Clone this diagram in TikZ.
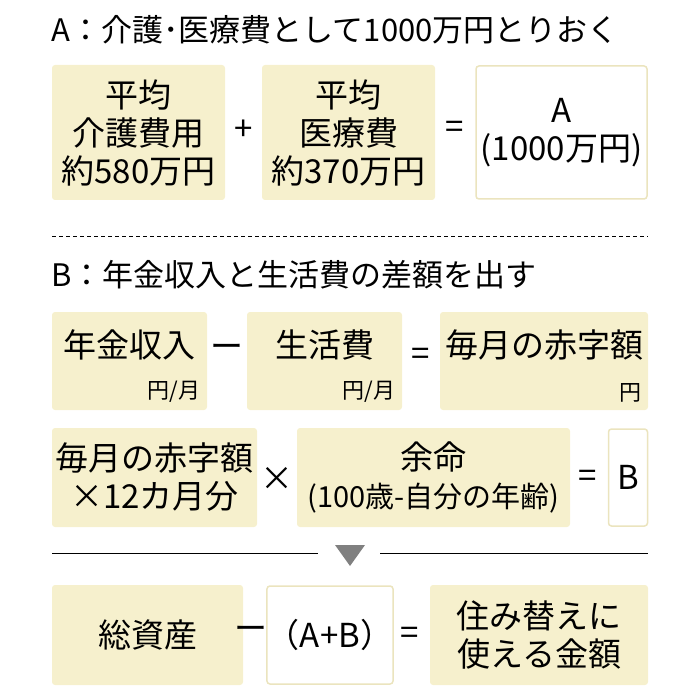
\documentclass[tikz,border=0pt]{standalone}
\usepackage{fontspec}
\setmainfont{Noto Sans CJK JP}
\definecolor{boxbeige}{RGB}{246,240,205}
\definecolor{lineline}{RGB}{235,228,190}
\definecolor{triagray}{RGB}{128,128,128}
\begin{document}
\begin{tikzpicture}[x=1pt,y=-1pt]
  \tikzset{BoxStyle/.style = {rectangle,
                              fill         = boxbeige,
                              rounded corners = 3pt,
                              inner sep    = 0pt,
                              align        = center,
                              font         = \fontsize{33}{38}\selectfont}}
  \tikzset{WhiteBoxStyle/.style = {BoxStyle,
                              fill         = white,
                              draw         = lineline,
                              line width   = 1.5pt}}
  \tikzset{OpStyle/.style = {inner sep = 0pt,
                              font = \fontsize{33}{38}\selectfont}}
  \tikzset{TitleStyle/.style = {anchor = west,
                              font = \fontsize{31}{36}\selectfont}}
  \tikzset{UnitStyle/.style = {anchor = south east,
                              font = \fontsize{22}{26}\selectfont}}

\useasboundingbox (0,0) rectangle (700,700);

% A
\node[TitleStyle] (titleA) at (48,30) {A：介護･医療費として1000万円とりおく};
\node[BoxStyle, minimum width=173, minimum height=135] (kaigo) at (138.5,132.5) {平均\\介護費用\\約580万円};
\node[BoxStyle, minimum width=173, minimum height=135] (iryo) at (348.5,132.5) {平均\\医療費\\約370万円};
\node[WhiteBoxStyle, minimum width=171, minimum height=133] (boxA) at (561.5,132.5) {A\\(1000万円)};
\node[OpStyle] (plusA) at (244,130) {+};
\node[OpStyle] (eqA) at (455,130) {=};

\draw[line width=1pt, dash pattern=on 4pt off 3pt] (52,237) -- (648,237);

% B
\node[TitleStyle] (titleB) at (48,275) {B：年金収入と生活費の差額を出す};
\node[BoxStyle, minimum width=155, minimum height=98] (nenkin) at (129.5,361) {};
\node[OpStyle] at (129.5,345) {年金収入};
\node[UnitStyle] at (204,406) {円/月};
\node[BoxStyle, minimum width=155, minimum height=98] (seikatsu) at (324.5,361) {};
\node[OpStyle] at (324.5,345) {生活費};
\node[UnitStyle] at (399,406) {円/月};
\node[BoxStyle, minimum width=208, minimum height=98] (akaji) at (544,361) {};
\node[OpStyle] at (544,345) {毎月の赤字額};
\node[UnitStyle] at (645,406) {円};
\node[OpStyle] (minusB) at (227,351) {ー};
\node[OpStyle] (eqB) at (421,357) {=};

\node[BoxStyle, minimum width=205, minimum height=99] (akaji12) at (154.5,477.5) {毎月の赤字額\\×12カ月分};
\node[BoxStyle, minimum width=273, minimum height=99] (yomei) at (433.5,477.5) {余命\\{\fontsize{29}{38}\selectfont (100歳-自分の年齢)}};
\node[WhiteBoxStyle, minimum width=39, minimum height=97] (boxB) at (628,477.5) {B};
\node[OpStyle] (timesB) at (277,479) {×};
\node[OpStyle] (eqB2) at (588,479) {=};

% result
\coordinate (L1) at (52,553);
\coordinate (L2) at (318,553);
\coordinate (R1) at (380,553);
\coordinate (R2) at (648,553);
\draw[line width=1pt] (L1) -- (L2);
\draw[line width=1pt] (R1) -- (R2);
\fill[triagray] (335,545) -- (365,545) -- (350,566) -- cycle;

\node[BoxStyle, minimum width=191, minimum height=100] (shisan) at (147.5,635) {総資産};
\node[WhiteBoxStyle, minimum width=125, minimum height=98] (AB) at (330,635) {（A+B）};
\node[BoxStyle, minimum width=218, minimum height=100] (tsukaeru) at (539,635) {住み替えに\\使える金額};
\node[OpStyle] (minusC) at (251,633) {ー};
\node[OpStyle] (eqC) at (410,636) {=};

\end{tikzpicture}
\end{document}
